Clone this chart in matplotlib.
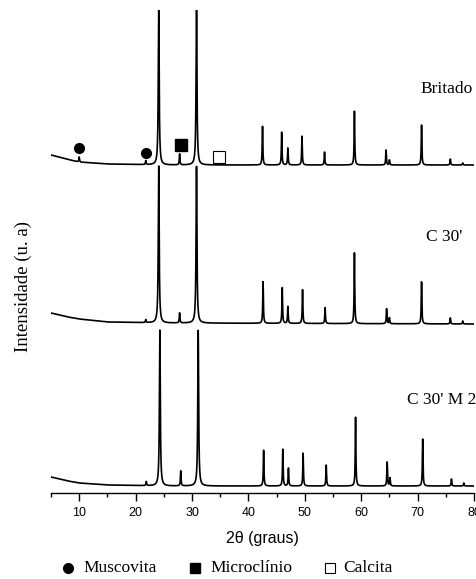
import numpy as np
import matplotlib
matplotlib.use("Agg")
import matplotlib.pyplot as plt
from matplotlib.lines import Line2D

# ---------------- data ----------------
samples = ["Britado", "C 30'", "C 30' M 2"]

# background knots (2theta, intensity a.u.)
bg_x_brit = [5, 8.4, 10, 15, 25, 80]
bg_y_brit = [338, 333, 331, 329, 328, 328]
bg_x_c30 = [5, 8, 10, 15, 25, 80]
bg_y_c30 = [180, 176, 174, 171, 170, 169]
bg_x_m2 = [5, 8, 10, 15, 25, 80]
bg_y_m2 = [16, 12, 10, 8, 7, 7]

# peak positions (2theta) and heights (a.u.)
pk_pos_brit = [10.0, 21.8, 24.1, 27.8, 30.8, 42.5, 45.9, 47.0, 49.5, 53.5, 58.8, 64.4, 65.0, 70.7, 75.8, 78.0]
pk_h_brit = [5, 4, 160, 11, 160, 39, 33, 17, 29, 13, 54, 15, 5, 40, 6, 2]

pk_pos_c30 = [21.8, 24.1, 27.8, 30.8, 42.6, 46.0, 47.0, 49.6, 53.6, 58.8, 64.5, 65.0, 70.7, 75.8, 78.0]
pk_h_c30 = [3, 157, 10, 157, 42, 36, 17, 34, 16, 71, 15, 6, 42, 6, 3]

pk_pos_m2 = [21.9, 24.3, 28.0, 31.1, 42.7, 46.1, 47.1, 49.7, 53.8, 59.0, 64.6, 65.1, 70.9, 76.0, 78.2]
pk_h_m2 = [4, 156, 15, 156, 36, 37, 18, 33, 21, 69, 24, 8, 47, 7, 3]

# phase markers
mus_x = [10.0, 21.8]
mus_y = [345, 340]
mic_x = [28.0]
mic_y = [348]
cal_x = [34.75]
cal_y = [336]

xticks = [10, 20, 30, 40, 50, 60, 70, 80]

# ---------------- figure ----------------
W, H = 477, 579
fig = plt.figure(figsize=(W / 100, H / 100), dpi=100)
ax = fig.add_axes([51 / W, 1 - 493 / H, (474 - 51) / W, (493 - 10) / H])

x = np.linspace(5, 80, 6000)


def profile(pos, hts, width):
    y = np.zeros_like(x)
    for p, h in zip(pos, hts):
        w = width if h < 100 else width * 1.4
        g = (w / 2) ** 2 / ((x - p) ** 2 + (w / 2) ** 2)
        y += h * g
    return y


curves = [
    (bg_x_brit, bg_y_brit, pk_pos_brit, pk_h_brit),
    (bg_x_c30, bg_y_c30, pk_pos_c30, pk_h_c30),
    (bg_x_m2, bg_y_m2, pk_pos_m2, pk_h_m2),
]
for bx, by, pp, ph in curves:
    y = np.interp(x, bx, by) + profile(pp, ph, 0.13)
    ax.plot(x, y, color="black", lw=1.2)

ax.set_xlim(5, 80)
ax.set_ylim(0, 483)

for s in ["left", "right", "top"]:
    ax.spines[s].set_visible(False)
ax.spines["bottom"].set_linewidth(1.0)
ax.set_yticks([])
ax.set_xticks(xticks)
ax.set_xticks(np.arange(5, 81, 10), minor=True)
ax.tick_params(axis="x", which="major", length=6, width=1, labelsize=9, pad=4)
ax.tick_params(axis="x", which="minor", length=3, width=1)
for t in ax.get_xticklabels():
    t.set_fontfamily("Liberation Sans")

ax.set_xlabel("2θ (graus)", fontfamily="Liberation Sans", fontsize=11.5, labelpad=9)

serif = "Liberation Serif"
fig.text(23 / W, 1 - 287 / H, "Intensidade (u. a)", rotation=90, ha="center", va="center",
         fontfamily=serif, fontsize=13.5)

# sample labels
ax.text(80 - (474 - 473) / 5.647, 493 - 93, "Britado", ha="right", va="baseline",
        fontfamily=serif, fontsize=12.5)
ax.text(80 - (474 - 462) / 5.647, 493 - 241, "C 30'", ha="right", va="baseline",
        fontfamily=serif, fontsize=12.5)
ax.text(80 - (474 - 476) / 5.647, 493 - 404, "C 30' M 2", ha="right", va="baseline",
        fontfamily=serif, fontsize=12.5, clip_on=False)

# phase markers
ax.plot(mus_x, mus_y, "o", color="black", ms=7, clip_on=False)
ax.plot(mic_x, mic_y, "s", color="black", ms=9, clip_on=False)
ax.plot(cal_x, cal_y, "s", mfc="white", mec="black", mew=0.8, ms=9, clip_on=False)

# legend line at bottom
ly = 1 - 568 / H
fig.text(83 / W, ly, "Muscovita", ha="left", va="center", fontfamily=serif, fontsize=12.5)
fig.text(210 / W, ly, "Microclínio", ha="left", va="center", fontfamily=serif, fontsize=12.5)
fig.text(343 / W, ly, "Calcita", ha="left", va="center", fontfamily=serif, fontsize=12.5)
fig.add_artist(Line2D([68 / W], [ly], marker="o", color="black", ms=7, transform=fig.transFigure))
fig.add_artist(Line2D([195 / W], [ly], marker="s", color="black", ms=7, transform=fig.transFigure))
fig.add_artist(Line2D([330 / W], [ly], marker="s", mfc="white", mec="black", mew=0.8, ms=7,
                      transform=fig.transFigure))

fig.savefig("out.png", dpi=100)
